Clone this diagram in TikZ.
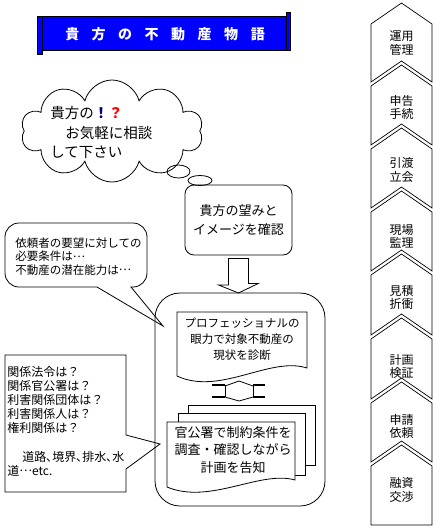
\documentclass[tikz,border=0pt]{standalone}
\usepackage{fontspec}
\setmainfont{Noto Sans CJK JP}
\usetikzlibrary{shapes.symbols,shapes.geometric}
\definecolor{bannerblue}{RGB}{0,0,255}
\definecolor{navyc}{RGB}{0,0,128}
\definecolor{redc}{RGB}{255,0,0}
\newcommand{\middots}{\raisebox{0.3em}{…}}
\begin{document}
\begin{tikzpicture}[x=1pt,y=-1pt,line width=0.8pt,
  txt/.style={inner sep=0pt,font=\fontsize{12}{14}\selectfont},
  chev/.style={draw,line width=0.7pt},
  ]
\useasboundingbox (0,0) rectangle (439,530);
% ---- title banner
\draw[fill=bannerblue] (37,16) -- (286,16) -- (286,12) -- (290,12) -- (290,50) -- (42,50) -- (42,54) -- (37,54) -- cycle;
\draw (42,16) -- (42,50);
\draw (286,16) -- (286,50);
\def\gapt{\hspace{12.5pt}}
\node[txt,text=white,font=\fontsize{14}{14}\selectfont\bfseries] (title) at (165,34)
  {貴\gapt 方\gapt の\gapt 不\gapt 動\gapt 産\gapt 物\gapt 語};
% ---- cloud
\node[cloud,draw,cloud puffs=10,aspect=2.0,minimum width=182pt,minimum height=102pt,inner sep=0pt] (cloud) at (112,131) {};
\node[txt,anchor=west,font=\fontsize{14.5}{14.5}\selectfont] (c1) at (50,113) {貴方の{\color{navyc}\bfseries ！}{\color{redc}\bfseries ？}};
\node[txt,anchor=west,font=\fontsize{14.5}{14.5}\selectfont] (c2) at (65,133) {お気軽に相談};
\node[txt,anchor=west,font=\fontsize{14.5}{14.5}\selectfont] (c3) at (50,152) {して下さい};
% thought bubbles
\node[ellipse,draw,minimum width=23pt,minimum height=13pt,inner sep=0pt] (t1) at (178.5,171.5) {};
\node[ellipse,draw,minimum width=24pt,minimum height=10pt,inner sep=0pt] (t2) at (200,180.5) {};
% ---- wish box
\node[draw,rounded corners=9pt,minimum width=107pt,minimum height=70pt,align=center,
  font=\fontsize{13}{19}\selectfont] (wish) at (238.5,220) {貴方の望みと\\イメージを確認};
% block arrow
\draw (wish.south) ++(-10,3) coordinate (a0) -- ++(20,0) -- ++(0,25) -- ++(10,0) -- (238.5,293) coordinate (atip) -- ++(-20,-8) -- ++(10,0) -- cycle;
% ---- big container
\draw[rounded corners=25pt] (155,293) rectangle (325,506);
\coordinate (bigbox) at (240,400);
% ---- speech bubble upper left
\draw[rounded corners=14pt] (97,287) -- (5,287) -- (5,223) -- (147,223) -- (147,287) [sharp corners] -- (131,287) -- (163,326) -- cycle;
\node[txt,anchor=west,align=left,font=\fontsize{11.5}{13.5}\selectfont] (req) at (15,256.5)
  {依頼者の要望に対しての\\必要条件は\middots\\不動産の潜在能力は\middots};
% ---- rectangle callout lower left
\draw (5,355) -- (126,355) -- (126,435) -- (160,444) -- (126,469) -- (126,492) -- (5,492) -- cycle;
\node[txt,anchor=north west,align=left,font=\fontsize{12}{14.1}\selectfont] (law) at (7,366)
  {関係法令は？\\関係官公署は？\\利害関係団体は？\\利害関係人は？\\権利関係は？\\[14.1pt]\hspace{15pt}道路､境界､排水､水\\道\middots etc.};
% ---- document shape
\draw (177,312) -- (307,312) -- (307,368) .. controls (270,356) and (220,396) .. (177,376) -- cycle;
\node[txt,align=center,font=\fontsize{11.5}{16}\selectfont] (diag) at (242,339.5)
  {プロフェッショナルの\\眼力で対象不動産の\\現状を診断};
% ---- up-down connector symbol
\draw[line width=1.4pt] (212,385) -- (225,385);
\draw[line width=1.4pt] (212,397) -- (225,397);
\draw[line width=1.4pt] (253,385) -- (265,385);
\draw[line width=1.4pt] (253,397) -- (265,397);
\draw (225,385) -- (225,397);
\draw (253,385) -- (253,397);
\draw (225,386) -- (239,381) -- (253,386);
\draw (225,397) -- (239,401) -- (253,397);
% ---- multi document
\draw (188,413) -- (188,405) -- (315,405) -- (315,465) -- (305,465);
\draw (178,422) -- (178,413) -- (305,413) -- (305,475) -- (295,475);
\draw[fill=white] (167,422) -- (295,422) -- (295,480) .. controls (260,470) and (210,505) .. (167,487) -- cycle;
\node[txt,align=center,font=\fontsize{13}{17.5}\selectfont] (gov) at (233,450)
  {官公署で制約条件を\\調査・確認しながら\\計画を告知};
% ---- right chevron column
\foreach \p/\b/\ly/\la/\lb/\nm in {3/82/43/運用/管理/a, 65/145/107.5/申告/手続/b, 128/208/170/引渡/立会/c, 191/271/236.5/現場/監理/d, 254/335/297.5/見積/折衝/e, 318/399/366.5/計画/検証/f, 382/462/426.5/申請/依頼/g}{
  \draw[chev] (371,\p+21) -- (401.5,\p) -- (432,\p+21) -- (432,\b) -- (401.5,\b-21) -- (371,\b) -- cycle;
  \node[txt,align=center,font=\fontsize{12}{13.5}\selectfont] (lab\nm) at (401.5,\ly) {\la\\\lb};
}
\draw[chev] (371,466) -- (401.5,445) -- (432,466) -- (432,525) -- (371,525) -- cycle;
\node[txt,align=center,font=\fontsize{12}{13.5}\selectfont] (labh) at (401.5,490) {融資\\交渉};
\end{tikzpicture}
\end{document}
